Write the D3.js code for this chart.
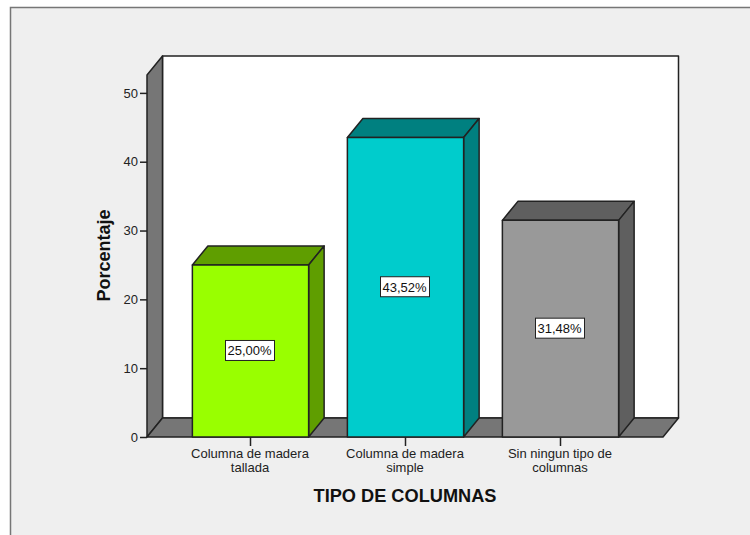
<!DOCTYPE html>
<html>
<head>
<meta charset="utf-8">
<style>
html, body { margin: 0; padding: 0; background: #fff; }
svg { display: block; font-family: "Liberation Sans", Arial, sans-serif; }
</style>
</head>
<body>
<svg width="750" height="535"></svg>
<script src="https://d3js.org/d3.v7.min.js"></script>
<script>
var categories = [["Columna de madera", "tallada"], ["Columna de madera", "simple"], ["Sin ningun tipo de", "columnas"]];
var values = [25.00, 43.52, 31.48];
var valueLabels = ["25,00%", "43,52%", "31,48%"];
var frontColors = ["#99ff00", "#00cccc", "#999999"];
var sideColors = ["#5f9e00", "#008080", "#5f5f5f"];
var yTicks = [0, 10, 20, 30, 40, 50];

var svg = d3.select("svg");
var dark = "#222";
var depth = {x: 15.5, y: -19};

var x = d3.scaleBand()
    .domain(d3.range(categories.length))
    .range([173, 638])
    .paddingInner(0.25)
    .paddingOuter(0.125);

var y = d3.scaleLinear()
    .domain([0, 52.6])
    .range([437, 75]);

var left = 147, right = 663;

// panel background
svg.append("rect")
    .attr("x", 10.5).attr("y", 7.5)
    .attr("width", 760).attr("height", 560)
    .attr("fill", "#efefef")
    .attr("stroke", "#767676")
    .attr("stroke-width", 1.5);

function poly(pts, fill) {
  return svg.append("polygon")
    .attr("points", pts.map(function(p) { return p.join(","); }).join(" "))
    .attr("fill", fill)
    .attr("stroke", dark)
    .attr("stroke-width", 1.5)
    .attr("stroke-linejoin", "round");
}

// back wall, left wall, floor
var plotTop = y.range()[1], plotBottom = y.range()[0];
poly([[left + depth.x, plotTop + depth.y], [right + depth.x, plotTop + depth.y], [right + depth.x, plotBottom + depth.y], [left + depth.x, plotBottom + depth.y]], "#fff");
poly([[left, plotTop], [left + depth.x, plotTop + depth.y], [left + depth.x, plotBottom + depth.y], [left, plotBottom]], "#767676");
poly([[left, plotBottom], [left + depth.x, plotBottom + depth.y], [right + depth.x, plotBottom + depth.y], [right, plotBottom]], "#767676");

// bars
values.forEach(function(v, i) {
  var x0 = x(i), x1 = x(i) + x.bandwidth(), yv = y(v);
  poly([[x0, yv], [x0 + depth.x, yv + depth.y], [x1 + depth.x, yv + depth.y], [x1, yv]], sideColors[i]);
  poly([[x1, yv], [x1 + depth.x, yv + depth.y], [x1 + depth.x, plotBottom + depth.y], [x1, plotBottom]], sideColors[i]);
  poly([[x0, yv], [x1, yv], [x1, plotBottom], [x0, plotBottom]], frontColors[i]);
});

// value labels
values.forEach(function(v, i) {
  var cx = x(i) + x.bandwidth() / 2, cy = y(v / 2);
  svg.append("rect")
      .attr("x", cx - 25).attr("y", cy - 10.5)
      .attr("width", 49).attr("height", 20)
      .attr("fill", "#fff")
      .attr("stroke", "#222")
      .attr("stroke-width", 1);
  svg.append("text")
      .attr("x", cx - 1).attr("y", cy + 4.5)
      .attr("text-anchor", "middle")
      .attr("font-size", 13)
      .attr("fill", "#111")
      .text(valueLabels[i]);
});

// axes
var yAxis = d3.axisLeft(d3.scaleLinear().domain([0, 50]).range([y(0), y(50)]))
    .tickValues(yTicks).tickSize(7).tickPadding(2).tickSizeOuter(0);
var gy = svg.append("g")
    .attr("transform", "translate(" + left + ",0)")
    .call(yAxis);
gy.select(".domain").remove();
gy.selectAll("line").attr("stroke", dark).attr("stroke-width", 1.5);
gy.selectAll("text").attr("font-size", 13).attr("font-family", "Liberation Sans").attr("fill", "#222");

var xAxis = d3.axisBottom(x).tickSize(9).tickFormat("").tickSizeOuter(0);
var gx = svg.append("g")
    .attr("transform", "translate(0," + plotBottom + ")")
    .call(xAxis);
gx.select(".domain").remove();
gx.selectAll("line").attr("stroke", dark).attr("stroke-width", 1.5);

categories.forEach(function(lines, i) {
  var t = svg.append("text")
      .attr("text-anchor", "middle")
      .attr("font-size", 13)
      .attr("fill", "#222");
  lines.forEach(function(s, j) {
    t.append("tspan")
        .attr("x", x(i) + x.bandwidth() / 2 - 0.5)
        .attr("y", 458 + j * 13.5)
        .text(s);
  });
});

// axis titles
svg.append("text")
    .attr("x", 405).attr("y", 502)
    .attr("text-anchor", "middle")
    .attr("font-size", 18.2)
    .attr("font-weight", "bold")
    .attr("fill", "#111")
    .text("TIPO DE COLUMNAS");

svg.append("text")
    .attr("transform", "translate(110,255.5) rotate(-90)")
    .attr("text-anchor", "middle")
    .attr("font-size", 18)
    .attr("font-weight", "bold")
    .attr("fill", "#111")
    .text("Porcentaje");
</script>
</body>
</html>
